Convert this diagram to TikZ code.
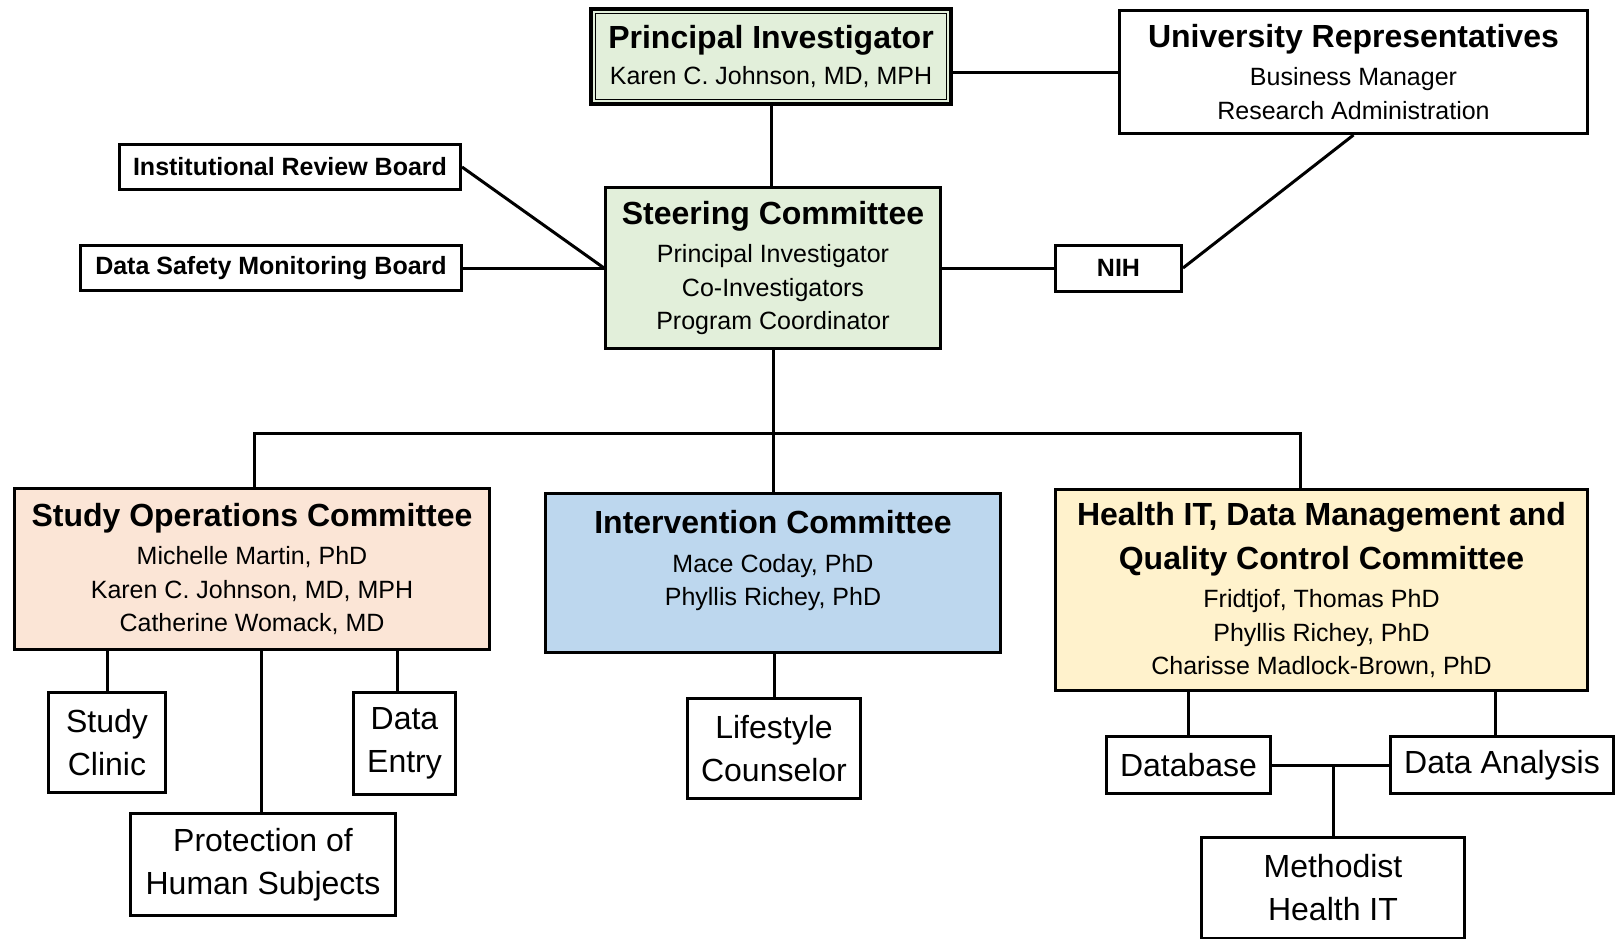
\documentclass[tikz,border=0pt]{standalone}
\usepackage{fontspec}
\setmainfont{Liberation Sans}
\usepackage{xcolor}
\usetikzlibrary{positioning}
\usetikzlibrary{calc}

\definecolor{leadgreen}{HTML}{E2EFDA}
\definecolor{opspeach}{HTML}{FBE5D6}
\definecolor{intblue}{HTML}{BDD7EE}
\definecolor{hityellow}{HTML}{FFF2CC}

\newcommand{\ttl}[1]{{\fontsize{32}{40}\selectfont\bfseries #1}}

\begin{document}
\begin{tikzpicture}[
  x=1pt, y=-1pt,
  font=\fontsize{25}{33.5}\selectfont,
  box/.style={draw, line width=3pt, align=center, inner sep=0pt, fill=white},
  board/.style={box, font=\fontsize{25}{30}\selectfont\bfseries},
  unit/.style={box, font=\fontsize{32}{43}\selectfont},
  link/.style={line width=3pt}
]
\useasboundingbox (0,0) rectangle (1618,938);

\node[box, fill=leadgreen, line width=3.5pt, minimum width=360, minimum height=95] (pi) at (771,56.5)
  {\ttl{Principal Investigator}\\[3pt]Karen C. Johnson, MD, MPH};
\draw[line width=1.3pt] ($(pi.north west)+(6.5,6.5)$) rectangle ($(pi.south east)+(-6.5,-6.5)$);

\node[box, fill=leadgreen, minimum width=335, minimum height=161] (steer) at (773,268)
  {\ttl{Steering Committee}\\[5pt]Principal Investigator\\Co-Investigators\\Program Coordinator};
\node[box, minimum width=468, minimum height=123] (ur) at (1353.5,72)
  {\ttl{University Representatives}\\[5pt]Business Manager\\Research Administration};

\node[board, minimum width=341, minimum height=45] (irb) at (290,167) {Institutional Review Board};
\node[board, minimum width=381, minimum height=45] (dsmb) at (271,268) {Data Safety Monitoring Board};
\node[board, minimum width=126, minimum height=46] (nih) at (1118.5,268) {NIH};

% committees
\node[box, fill=opspeach, minimum width=475, minimum height=161] (soc) at (252,569)
  {\ttl{Study Operations Committee}\\[5pt]Michelle Martin, PhD\\Karen C. Johnson, MD, MPH\\Catherine Womack, MD};
\node[box, fill=intblue, minimum width=455, minimum height=159] (ivc) at (773,573)
  {\ttl{Intervention Committee}\\[5pt]Mace Coday, PhD\\Phyllis Richey, PhD\\[-4pt]\mbox{}};
\node[box, fill=hityellow, minimum width=532, minimum height=201] (hit) at (1321.5,590)
  {\ttl{Health IT, Data Management and}\\[10pt]\ttl{Quality Control Committee}\\[5pt]Fridtjof, Thomas PhD\\Phyllis Richey, PhD\\Charisse Madlock-Brown, PhD};

% working units
\node[unit, minimum width=117, minimum height=100] (clinic) at (107,742.5) {Study\\Clinic};
\node[unit, minimum width=102, minimum height=102] (entry) at (404.5,743.5) {Data\\Entry};
\node[unit, minimum width=265, minimum height=102] (protect) at (263,864.5) {Protection of\\Human Subjects};
\node[unit, minimum width=173, minimum height=100] (coach) at (774,748.5) {Lifestyle\\Counselor};
\node[unit, minimum width=164, minimum height=57] (db) at (1188.5,765) {Database};
\node[unit, minimum width=223, minimum height=57] (analysis) at (1502,765) {Data Analysis};
\node[unit, minimum width=263, minimum height=101] (methodist) at (1333,888) {Methodist\\Health IT};

\coordinate (bus) at (773,433);

\draw[link] (pi.south) -- (pi.south |- steer.north);
\draw[link] (ur.west) -- (ur.west -| pi.east);
\draw[link] (irb.east) -- (steer.west);
\draw[link] (dsmb.east) -- (steer.west);
\draw[link] (steer.east) -- (nih.west);
\draw[link] (nih.east) -- (ur.south);

\draw[link] (steer.south) -- (ivc.north);
\draw[link] ([xshift=2pt]soc.north) |- (bus) -| ([xshift=-21.5pt]hit.north);

\draw[link] (clinic.north) -- (clinic.north |- soc.south);
\draw[link] ([xshift=-2pt]protect.north) -- ([xshift=-2pt]protect.north |- soc.south);
\draw[link] ([xshift=-7pt]entry.north) -- ([xshift=-7pt]entry.north |- soc.south);
\draw[link] (coach.north) -- (coach.north |- ivc.south);

\draw[link] (db.north) -- (db.north |- hit.south);
\draw[link] ([xshift=-7pt]analysis.north) -- ([xshift=-7pt]analysis.north |- hit.south);
\draw[link] (db.east) -- (analysis.west);
\draw[link] (methodist.north) -- (methodist.north |- db.east);

\end{tikzpicture}
\end{document}
